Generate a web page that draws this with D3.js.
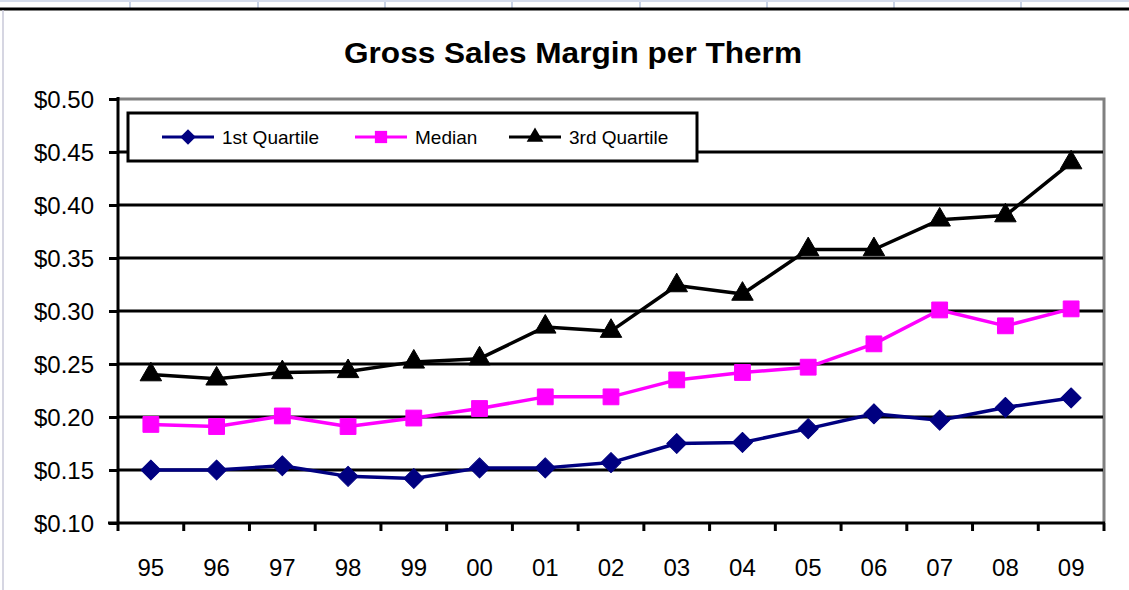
<!DOCTYPE html>
<html>
<head>
<meta charset="utf-8">
<script src="https://cdn.jsdelivr.net/npm/d3@7"></script>
<style>
  body { margin: 0; background: #fff; }
  svg { display: block; font-family: "Liberation Sans", Arial, sans-serif; }
</style>
</head>
<body>
<svg width="1129" height="590"></svg>
<script>
// chart data
var years = ["95","96","97","98","99","00","01","02","03","04","05","06","07","08","09"];
var firstQuartile = [0.150,0.150,0.154,0.144,0.142,0.152,0.152,0.157,0.175,0.176,0.189,0.203,0.197,0.209,0.218];
var median = [0.193,0.191,0.201,0.191,0.199,0.208,0.219,0.219,0.235,0.242,0.247,0.269,0.301,0.286,0.302];
var thirdQuartile = [0.240,0.236,0.242,0.243,0.252,0.255,0.285,0.281,0.324,0.316,0.358,0.358,0.386,0.390,0.440];
var yTicks = [0.10,0.15,0.20,0.25,0.30,0.35,0.40,0.45,0.50];
var seriesNames = ["1st Quartile","Median","3rd Quartile"];

var svg = d3.select("svg");

// spreadsheet strip at the top
var cellEdges = [130,258,385,512,640,767,894,1021];
svg.selectAll("line.cell").data(cellEdges).enter().append("line")
  .attr("x1",function(d){return d;}).attr("x2",function(d){return d;})
  .attr("y1",0).attr("y2",8).attr("stroke","#c9d3e6").attr("stroke-width",2);
svg.append("line").attr("x1",0).attr("x2",1129).attr("y1",1).attr("y2",1).attr("stroke","#d5dcec").attr("stroke-width",2);
svg.append("line").attr("x1",0).attr("x2",1129).attr("y1",9).attr("y2",9).attr("stroke","#000").attr("stroke-width",3);
svg.append("line").attr("x1",3).attr("x2",3).attr("y1",10).attr("y2",590).attr("stroke","#c8c8d8").attr("stroke-width",1.5);

var mLeft = 118, mRight = 1104, mTop = 99, mBottom = 523;

var x = d3.scaleBand().domain(years).range([mLeft, mRight]);
var y = d3.scaleLinear().domain([0.10, 0.50]).range([mBottom, mTop]);

// title
svg.append("text").attr("x",573).attr("y",63).attr("text-anchor","middle")
  .attr("font-size",29).attr("font-weight","bold")
  .attr("textLength",458).attr("lengthAdjust","spacingAndGlyphs")
  .text("Gross Sales Margin per Therm");

// plot frame (gray top/right)
svg.append("path")
  .attr("d","M"+mLeft+","+mTop+"H"+mRight+"V"+mBottom)
  .attr("fill","none").attr("stroke","#808080").attr("stroke-width",3);

// gridlines
svg.selectAll("line.grid").data(yTicks.slice(1,-1)).enter().append("line")
  .attr("x1",mLeft).attr("x2",mRight-1)
  .attr("y1",function(d){return y(d);}).attr("y2",function(d){return y(d);})
  .attr("stroke","#000").attr("stroke-width",3);

// y axis
var yAxis = svg.append("g").attr("transform","translate("+mLeft+",0)")
  .call(d3.axisLeft(y).tickValues(yTicks).tickSize(9).tickPadding(15)
    .tickFormat(function(d){return "$"+d3.format(".2f")(d);}));
yAxis.select(".domain").attr("stroke","#000").attr("stroke-width",3).attr("d","M0,"+(mTop-2)+"V"+mBottom);
yAxis.selectAll(".tick line").attr("stroke","#000").attr("stroke-width",3);
yAxis.selectAll(".tick text").attr("font-size",24).attr("fill","#000")
  .attr("font-family","Liberation Sans, Arial, sans-serif").attr("dy","0.36em");

// x axis
var xAxis = svg.append("g").attr("transform","translate(0,"+mBottom+")");
xAxis.append("line").attr("x1",mLeft-10).attr("x2",mRight+1).attr("y1",0).attr("y2",0)
  .attr("stroke","#000").attr("stroke-width",3);
var edges = years.map(function(d){return x(d);}).concat([mRight]);
xAxis.selectAll("line.tk").data(edges).enter().append("line")
  .attr("x1",function(d){return d;}).attr("x2",function(d){return d;})
  .attr("y1",0).attr("y2",8).attr("stroke","#000").attr("stroke-width",3);
xAxis.selectAll("text").data(years).enter().append("text")
  .attr("x",function(d){return x(d)+x.bandwidth()/2;}).attr("y",53)
  .attr("text-anchor","middle").attr("font-size",24).text(function(d){return d;});

// series
var series = [
  {name: seriesNames[0], values: firstQuartile, color: "#000080", shape: d3.symbolSquare, size: 200, rot: 45},
  {name: seriesNames[1], values: median, color: "#ff00ff", shape: d3.symbolSquare, size: 250, rot: 0},
  {name: seriesNames[2], values: thirdQuartile, color: "#000000", shape: d3.symbolTriangle, size: 200, rot: 0}
];

var line = d3.line()
  .x(function(d,i){return x(years[i])+x.bandwidth()/2;})
  .y(function(d){return y(d);});

series.forEach(function(s){
  svg.append("path").datum(s.values).attr("d",line)
    .attr("fill","none").attr("stroke",s.color).attr("stroke-width",3.5).attr("stroke-linejoin","round");
  svg.selectAll(null).data(s.values).enter().append("path")
    .attr("d",d3.symbol().type(s.shape).size(s.size))
    .attr("transform",function(d,i){return "translate("+(x(years[i])+x.bandwidth()/2)+","+y(d)+") rotate("+s.rot+")";})
    .attr("fill",s.color).attr("stroke",s.color).attr("stroke-width",1).attr("stroke-linejoin","round");
});

// legend
var lg = svg.append("g");
lg.append("rect").attr("x",128).attr("y",113).attr("width",569).attr("height",48)
  .attr("fill","#fff").attr("stroke","#000").attr("stroke-width",3);
var legendX = [162, 355, 509];
series.forEach(function(s,i){
  var g = lg.append("g").attr("transform","translate("+legendX[i]+",137)");
  g.append("line").attr("x1",0).attr("x2",52).attr("y1",0).attr("y2",0)
    .attr("stroke",s.color).attr("stroke-width",3);
  g.append("path").attr("d",d3.symbol().type(s.shape).size(s.size*0.6))
    .attr("transform","translate(26,0) rotate("+s.rot+")").attr("fill",s.color);
  g.append("text").attr("x",60).attr("y",7).attr("font-size",19).text(s.name);
});
</script>
</body>
</html>
